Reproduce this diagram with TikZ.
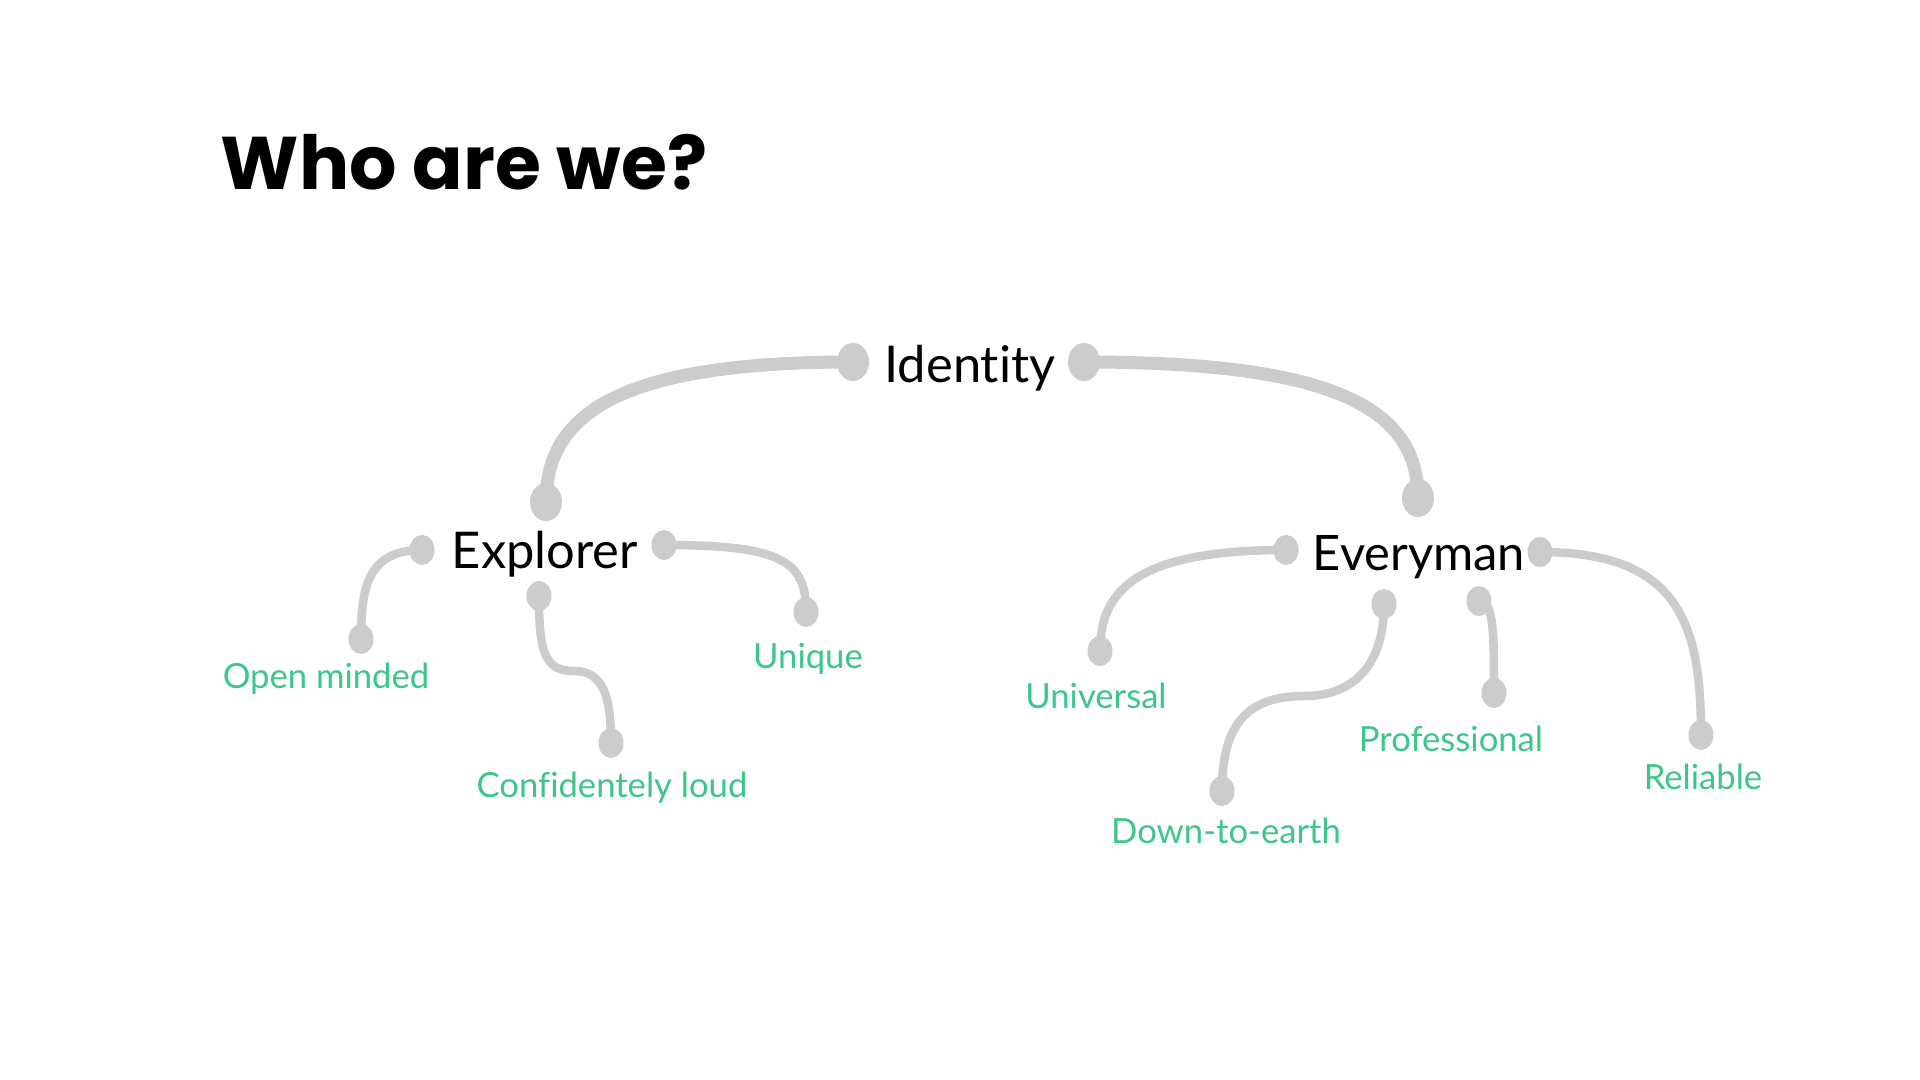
\documentclass[tikz,border=0pt]{standalone}
\usepackage{fontspec}
\setmainfont{Lato}[Ligatures=NoCommon]
\newfontfamily\titlefont{Poppins}
\usetikzlibrary{shapes.geometric}
\definecolor{linkgray}{HTML}{CCCCCC}
\definecolor{leafgreen}{HTML}{3CC68A}
\begin{document}
\begin{tikzpicture}[x=0.01cm,y=-0.01cm,
  bigdot/.style={ellipse,fill=linkgray,inner sep=0pt,minimum width=0.32cm,minimum height=0.38cm},
  dot/.style={ellipse,fill=linkgray,inner sep=0pt,minimum width=0.25cm,minimum height=0.30cm},
  biglink/.style={draw=linkgray,line width=0.13cm,line cap=round},
  link/.style={draw=linkgray,line width=0.085cm,line cap=round},
  hub/.style={anchor=base,inner sep=0pt,font=\fontsize{14.4}{17}\selectfont},
  leaf/.style={anchor=base,inner sep=0pt,text=leafgreen,font=\fontsize{9.85}{12}\selectfont}]
\useasboundingbox[fill=white] (0,0) rectangle (1920,1080);
\node[anchor=base west,inner sep=0pt,font=\titlefont\bfseries\fontsize{21.2}{26}\selectfont] (title) at (220,190) {Who are we?};
\node[hub] (identity) at (970,383) {Identity};
\node[hub] (explorer) at (545,569) {Explorer};
\node[hub,font=\fontsize{13.9}{17}\selectfont] (everyman) at (1419,571) {Everyman};
\node[leaf] (openminded) at (326,689) {Open minded};
\node[leaf] (unique) at (808,669) {Unique};
\node[leaf] (loud) at (612,798) {Confidentely loud};
\node[leaf] (universal) at (1096,709) {Universal};
\node[leaf] (earth) at (1226,844) {Down-to-earth};
\node[leaf] (professional) at (1451,752) {Professional};
\node[leaf] (reliable) at (1703,790) {Reliable};
\node[bigdot] (idL) at (853,362) {};
\node[bigdot] (idR) at (1084,362) {};
\node[bigdot] (exTop) at (546,502) {};
\node[bigdot] (evTop) at (1418,498) {};
\node[dot] (exL) at (422,550) {};
\node[dot] (exR) at (664,545) {};
\node[dot] (exB) at (539,596) {};
\node[dot] (omDot) at (361,639) {};
\node[dot] (unDot) at (806,612) {};
\node[dot] (clDot) at (611,743) {};
\node[dot] (evL) at (1286,550) {};
\node[dot] (evR) at (1540,552) {};
\node[dot] (evB1) at (1384,604) {};
\node[dot] (evB2) at (1479,601) {};
\node[dot] (uvDot) at (1100,651) {};
\node[dot] (deDot) at (1222,791) {};
\node[dot] (prDot) at (1494,693) {};
\node[dot] (rlDot) at (1701,735) {};
\coordinate (clBend) at (574,671);
\coordinate (deBend) at (1305,696);
\draw[biglink] (idL.center) .. controls +(-230,0) and +(0,-90) .. (exTop.center);
\draw[biglink] (idR.center) .. controls +(250,0) and +(0,-90) .. (evTop.center);
\draw[link] (exL.center) .. controls +(-55,0) and +(0,-50) .. (omDot.center);
\draw[link] (exR.center) .. controls +(120,0) and +(0,-50) .. (unDot.center);
\draw[link] (exB.center) .. controls +(0,55) and +(-30,0) .. (clBend) .. controls +(30,0) and +(0,-45) .. (clDot.center);
\draw[link] (evL.center) .. controls +(-150,0) and +(0,-60) .. (uvDot.center);
\draw[link] (evB1.center) .. controls +(0,70) and +(40,0) .. (deBend) .. controls +(-55,0) and +(0,-70) .. (deDot.center);
\draw[link] (evB2.center) .. controls +(15,0) and +(0,-60) .. (prDot.center);
\draw[link] (evR.center) .. controls +(140,0) and +(0,-110) .. (rlDot.center);
\end{tikzpicture}
\end{document}
